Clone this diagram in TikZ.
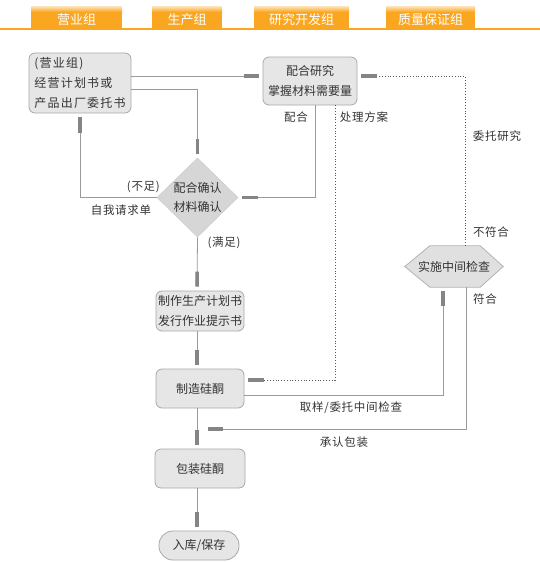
\documentclass[tikz,border=0pt]{standalone}
\usepackage{fontspec}
\setmainfont{Noto Sans CJK SC}
\newfontfamily\cjkwide{Noto Sans CJK SC}[LetterSpace=10]
\newfontfamily\cjklbl{Noto Sans CJK SC}[LetterSpace=6]
\usetikzlibrary{arrows.meta,shapes.geometric,backgrounds}
\definecolor{tabor}{HTML}{FAA620}
\definecolor{tablight}{HTML}{FDE6BE}
\definecolor{boxfill}{HTML}{E6E6E6}
\definecolor{boxdraw}{HTML}{A8A8A8}
\definecolor{linegray}{HTML}{9A9A9A}
\definecolor{bargray}{HTML}{858585}
\definecolor{txt}{HTML}{333333}
\tikzset{
  tabbox/.style={fill=tabor, draw=none},
  tabtext/.style={text=white, font=\fontsize{13}{15}\selectfont},
  procbox/.style={draw=boxdraw, fill=boxfill, rounded corners=6pt, line width=0.8pt,
    text=txt, font=\fontsize{12}{20}\selectfont, align=center, inner sep=0pt},
  lbl/.style={text=txt, font=\cjklbl\fontsize{11.5}{14}\selectfont, inner sep=0pt},
  conn/.style={draw=linegray, line width=0.8pt,
    -{Rectangle[length=15pt,width=3.5pt,color=bargray]}, shorten >=4pt},
  dconn/.style={conn, draw=black!65, dotted},
}
\begin{document}
\begin{tikzpicture}[x=1pt,y=-1pt]
\useasboundingbox (0,0) rectangle (540,562);
% header
\foreach \a/\b/\t/\n in {31/122/营业组/t1,152/222/生产组/t2,254/349/研究开发组/t3,386/475/质量保证组/t4}{
  \fill[tabor] (\a,6) rectangle (\b,29);
  \shade[top color=tablight, bottom color=tabor] (\a,6) rectangle (\b,12);
  \node[tabtext] (\n) at ({(\a+\b)/2},19.5) {\t};
}
\draw[tabor, line width=1.4pt] (0,29) -- (540,29);

% nodes
\node[procbox, minimum width=102pt, minimum height=60pt, align=left, font=\cjkwide\fontsize{12}{20}\selectfont] (n1) at (80,83) {(营业组)\\经营计划书或\\产品出厂委托书};
\node[procbox, minimum width=94pt, minimum height=48pt] (n2) at (310,81) {配合研究\\掌握材料需要量};
\node[diamond, aspect=1, draw=black!18, fill=black!16, line width=0.8pt, inner sep=0pt,
  minimum width=81pt, minimum height=79pt,
  label={[text=txt, font=\fontsize{12}{19}\selectfont, align=center]center:配合确认\\材料确认}] (dia) at (197.5,197.5) {};
\node[procbox, minimum width=88pt, minimum height=40pt] (plan) at (200,311) {制作生产计划书\\发行作业提示书};
\node[procbox, minimum width=88pt, minimum height=39pt] (make) at (200,388.5) {制造硅酮};
\node[procbox, minimum width=90pt, minimum height=39pt] (pack) at (200,468.5) {包装硅酮};
\node[procbox, minimum width=80pt, minimum height=29pt, rounded corners=14pt] (store) at (199,545.5) {入库/保存};
\node[text=txt, font=\fontsize{12}{14}\selectfont, minimum width=98pt, minimum height=41pt, inner sep=0pt] (hex) at (454,266.5) {实施中间检查};
\begin{scope}[on background layer]
  \draw[draw=black!30, fill=black!12, line width=0.8pt]
    (hex.west) -- ([xshift=25pt]hex.north west) -- ([xshift=-23pt]hex.north east) -- (hex.east)
    -- ([xshift=-23pt]hex.south east) -- ([xshift=25pt]hex.south west) -- cycle;
\end{scope}

% connectors
\coordinate (cx) at (197,0);
\draw[conn] ([yshift=7pt]n1.east) -- ([yshift=7pt]n1.east -| n2.west);
\draw[conn] ([yshift=-6pt]n1.east) -| (dia.north);
\draw[conn] (dia.west) -| (n1.south);
\draw[conn] ([xshift=5pt]n2.south) |- (dia.east);
\draw[dconn] ([xshift=11pt]hex.north) |- ([yshift=5pt]n2.east);
\draw[dconn] ([xshift=25pt]n2.south) |- ([yshift=8.5pt]make.east);
\draw[conn] ([yshift=-6.5pt]make.east) -| ([xshift=-11pt]hex.south);
\coordinate (j) at (197,429);
\draw[conn, shorten >=11pt] ([xshift=12pt]hex.south) |- (j);
\draw[conn] (dia.south) -- (cx |- plan.north);
\draw[conn] (cx |- plan.south) -- (cx |- make.north);
\draw[conn] (cx |- make.south) -- (cx |- pack.north);
\draw[conn] (cx |- pack.south) -- (cx |- store.north);

% labels
\node[lbl, anchor=east] (l1) at (160,187) {(不足)};
\node[lbl] (l2) at (121,210) {自我请求单};
\node[lbl] (l3) at (296,117) {配合};
\node[lbl] (l4) at (364,117) {处理方案};
\node[lbl] (l5) at (497,136) {委托研究};
\node[lbl] (l6) at (491,232) {不符合};
\node[lbl] (l7) at (224,243) {(满足)};
\node[lbl] (l8) at (485,299) {符合};
\node[lbl] (l9) at (351,408) {取样/委托中间检查};
\node[lbl] (l10) at (344,442) {承认包装};
\end{tikzpicture}
\end{document}
